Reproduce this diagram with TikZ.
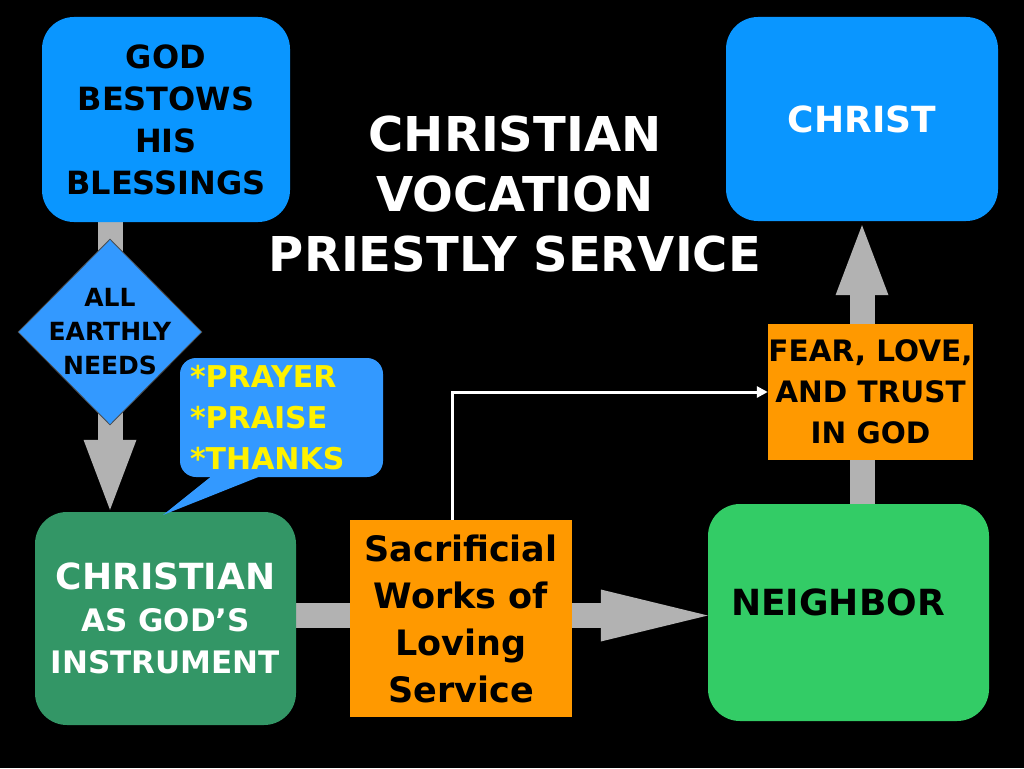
\documentclass[tikz,border=0pt]{standalone}
\usepackage{fontspec}
\setmainfont{DejaVu Sans}
\usetikzlibrary{arrows.meta,shapes.geometric,calc}

\definecolor{skyblue}{RGB}{10,150,255}
\definecolor{paleblue}{RGB}{51,153,255}
\definecolor{darkgreen}{RGB}{51,150,102}
\definecolor{brightgreen}{RGB}{51,204,102}
\definecolor{boxorange}{RGB}{255,153,0}
\definecolor{arrowgray}{RGB}{178,178,178}

\newcommand{\fsize}[2]{\fontsize{#1}{#2}\selectfont\bfseries}

\pgfdeclarelayer{bg}
\pgfsetlayers{bg,main}

\tikzset{
  roundbox/.style={rounded corners=32pt, inner sep=0pt, align=center},
  flatbox/.style={fill=boxorange, inner sep=0pt, align=center},
  blockarrow/.style={line width=25pt, arrowgray, -{Triangle[length=70pt,width=53pt,line width=0pt]}},
}

\begin{document}
\begin{tikzpicture}[x=1pt,y=-1pt]
  \useasboundingbox (0,0) rectangle (1024,768);
  % 上方两框
  \node[roundbox, fill=skyblue, minimum width=248pt, minimum height=205pt, font=\fsize{32}{42}] (god) at (166,119.5) {GOD\\BESTOWS\\HIS\\BLESSINGS};
  \node[roundbox, fill=skyblue, text=white, minimum width=272pt, minimum height=204pt, font=\fsize{36}{42}] (christ) at (862,119) {CHRIST};
  % 标题
  \node[align=center, text=white, font=\fsize{48}{60}] (title) at (515,194.5) {CHRISTIAN\\VOCATION\\PRIESTLY SERVICE};
  % 下方两框
  \node[roundbox, fill=darkgreen, text=white, minimum width=261pt, minimum height=213pt, font=\fsize{31}{42}] (christian) at (165.5,618.5) {{\fontsize{36}{42}\selectfont CHRISTIAN}\\AS GOD’S\\INSTRUMENT};
  \node[roundbox, fill=brightgreen, minimum width=281pt, minimum height=217pt] (neighbor) at (848.5,612.5) {};
  \node[font=\fsize{36}{42}] (neighbortext) at (838,602) {NEIGHBOR};
  % 菱形
  \node[diamond, fill=paleblue, draw=black!70, line width=0.8pt, minimum width=184pt, minimum height=186pt, inner sep=0pt] (needs) at (110,332) {};
  \node[align=center, font=\fsize{25}{34}] (needstext) at (needs.center) {ALL\\EARTHLY\\NEEDS};
  % 橙色框
  \node[flatbox, minimum width=222pt, minimum height=197pt, font=\fsize{35}{47}] (works) at (461,618.5) {Sacrificial\\Works of\\Loving\\Service};
  \node[flatbox, minimum width=205pt, minimum height=136pt, font=\fsize{29.5}{41}] (trust) at (870.5,392) {FEAR, LOVE,\\AND TRUST\\IN GOD};
  % 对话框
  \node[roundbox, rounded corners=16pt, fill=paleblue, text=yellow, align=left, inner xsep=10pt, text width=183pt, minimum height=119pt, font=\fsize{30}{41}] (bubble) at (281.5,417.5) {{*}PRAYER\\{*}PRAISE\\{*}THANKS};
  \coordinate (tailtip) at (163,515);
  \fill[paleblue] ([xshift=33pt,yshift=2pt]bubble.south west) -- (tailtip) -- ([xshift=83pt,yshift=2pt]bubble.south west) -- cycle;
  % 白色箭头
  \draw[white, line width=3pt, -{Triangle[length=11pt,width=11pt]}] ([xshift=-9pt]works.north) |- (trust.west);
  % 灰色箭头
  \begin{pgfonlayer}{bg}
    \fill[black] (0,0) rectangle (1024,768);
    \draw[blockarrow] (god.south -| needs.center) -- ($(christian.north -| needs.center)+(0,-2)$);
    \draw[blockarrow, -{Triangle[length=107pt,width=52pt,line width=0pt]}] ($(christian.east)+(0,-3)$) -- ($(christian.east -| neighbor.west)+(0,-3)$);
    \draw[blockarrow] (neighbor.north -| christ.south) -- ($(christ.south)+(0,4)$);
  \end{pgfonlayer}
\end{tikzpicture}
\end{document}
